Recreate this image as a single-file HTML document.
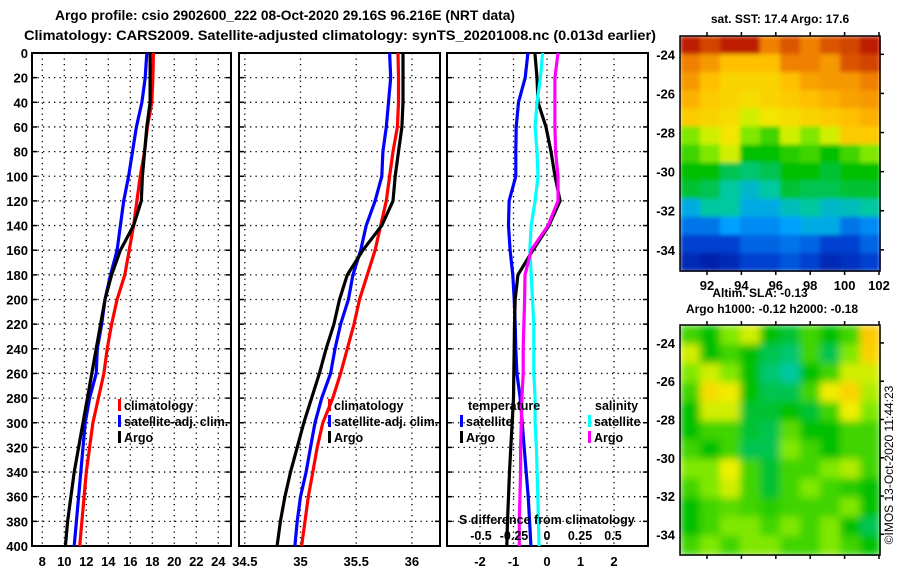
<!DOCTYPE html>
<html><head><meta charset="utf-8">
<style>
html,body{margin:0;padding:0;background:#fff;}
svg{display:block;font-family:"Liberation Sans",sans-serif;font-weight:bold;}
</style></head>
<body>
<svg id="fig" width="900" height="580" viewBox="0 0 900 580">
<defs>
<filter id="blurS" x="0" y="0" width="1" height="1"><feGaussianBlur stdDeviation="4" edgeMode="duplicate"/></filter>
<filter id="blurT" x="0" y="0" width="1" height="1"><feGaussianBlur stdDeviation="2" edgeMode="duplicate"/></filter>
</defs>
<text x="285" y="20" font-size="14" text-anchor="middle" textLength="460" lengthAdjust="spacingAndGlyphs">Argo profile: csio 2902600_222 08-Oct-2020 29.16S 96.216E (NRT data)</text>
<text x="340" y="40" font-size="14" text-anchor="middle" textLength="632" lengthAdjust="spacingAndGlyphs">Climatology: CARS2009. Satellite-adjusted climatology: synTS_20201008.nc (0.013d earlier)</text>
<text x="780" y="23" font-size="12" text-anchor="middle">sat. SST: 17.4 Argo: 17.6</text>
<text x="760" y="297" font-size="12" text-anchor="middle">Altim. SLA: -0.13</text>
<text x="772" y="313" font-size="12" text-anchor="middle">Argo h1000: -0.12 h2000: -0.18</text>
<text transform="translate(893,465) rotate(-90)" font-size="12" font-weight="normal" text-anchor="middle">©IMOS 13-Oct-2020 11:44:23</text>
</svg>
<script>
// ---- data ----
const depths = [0,20,40,60,80,100,120,140,160,180,200,220,240,260,280,300,320,340,360,380,400];
const tempClim = [18.1,18.05,17.95,17.55,17.3,16.9,16.6,16.3,15.9,15.5,14.8,14.3,13.9,13.6,13.1,12.6,12.3,12.0,11.8,11.6,11.4];
const tempSat = [17.5,17.35,17.05,16.55,16.2,15.85,15.4,15.1,14.8,14.2,13.7,13.4,13.0,12.9,12.3,11.9,11.7,11.5,11.3,11.1,10.9];
const tempArgo = [17.8,17.8,17.8,17.5,17.3,17.1,17.0,16.3,15.1,14.3,13.7,13.3,12.9,12.5,12.1,11.7,11.3,10.9,10.6,10.3,10.1];
const salClim = [35.875,35.88,35.88,35.87,35.83,35.80,35.77,35.72,35.67,35.60,35.53,35.48,35.42,35.36,35.29,35.2,35.15,35.11,35.07,35.04,35.01];
const salSat = [35.80,35.81,35.79,35.77,35.74,35.73,35.67,35.59,35.54,35.47,35.43,35.36,35.31,35.27,35.19,35.13,35.09,35.05,35.0,34.97,34.95];
const salArgo = [35.92,35.92,35.92,35.91,35.88,35.85,35.83,35.73,35.56,35.42,35.35,35.30,35.23,35.17,35.10,35.03,34.97,34.91,34.86,34.82,34.79];
const dTempSat = [-0.57,-0.65,-0.85,-0.92,-0.93,-0.93,-1.13,-1.15,-1.1,-1.02,-0.98,-0.95,-0.93,-0.9,-0.8,-0.74,-0.68,-0.62,-0.56,-0.52,-0.48];
const dTempArgo = [-0.36,-0.3,-0.27,-0.03,0.12,0.24,0.39,0.06,-0.42,-0.87,-0.95,-0.97,-0.98,-0.99,-1.0,-1.04,-1.08,-1.12,-1.15,-1.18,-1.2];
const dSalSat = [-0.033,-0.05,-0.076,-0.09,-0.076,-0.068,-0.09,-0.12,-0.13,-0.12,-0.11,-0.1,-0.1,-0.1,-0.09,-0.09,-0.08,-0.075,-0.07,-0.065,-0.06];
const dSalArgo = [0.083,0.06,0.06,0.06,0.065,0.083,0.083,0.008,-0.12,-0.167,-0.17,-0.175,-0.18,-0.18,-0.19,-0.195,-0.2,-0.2,-0.205,-0.21,-0.21];
const depthTicks = [0,20,40,60,80,100,120,140,160,180,200,220,240,260,280,300,320,340,360,380,400];
const tempTicks = [8,10,12,14,16,18,20,22,24];
const salTicks = [34.5,35,35.5,36];
const salTickLabels = ["34.5","35","35.5","36"];
const diffTicks = [-2,-1,0,1,2];
const sdiffTicks = [-0.5,-0.25,0,0.25,0.5];
const sdiffTickLabels = ["-0.5","-0.25","0","0.25","0.5"];
const latTicks = [-24,-26,-28,-30,-32,-34];
const lonTicks = [92,94,96,98,100,102];
const sstGrid = [
[0.97,0.92,0.97,0.97,0.85,0.9,0.85,0.9,0.92,0.97],
[0.85,0.8,0.72,0.72,0.72,0.85,0.85,0.8,0.9,0.92],
[0.8,0.72,0.68,0.68,0.68,0.72,0.78,0.8,0.8,0.85],
[0.75,0.7,0.68,0.66,0.68,0.7,0.72,0.75,0.78,0.8],
[0.7,0.68,0.66,0.6,0.64,0.66,0.68,0.7,0.72,0.75],
[0.55,0.6,0.64,0.55,0.5,0.6,0.55,0.6,0.7,0.7],
[0.5,0.55,0.6,0.45,0.45,0.48,0.5,0.45,0.5,0.55],
[0.45,0.45,0.4,0.38,0.4,0.45,0.45,0.42,0.45,0.45],
[0.42,0.4,0.35,0.32,0.35,0.42,0.4,0.4,0.42,0.42],
[0.3,0.35,0.35,0.3,0.3,0.33,0.35,0.32,0.33,0.35],
[0.22,0.22,0.28,0.25,0.25,0.28,0.3,0.3,0.22,0.25],
[0.15,0.15,0.15,0.2,0.2,0.22,0.2,0.15,0.15,0.2],
[0.1,0.08,0.1,0.15,0.15,0.18,0.15,0.1,0.12,0.15]];
const slaGrid = [
[0.5,0.45,0.55,0.6,0.45,0.42,0.5,0.45,0.5,0.7],
[0.6,0.45,0.5,0.45,0.4,0.38,0.5,0.4,0.55,0.68],
[0.55,0.6,0.55,0.45,0.38,0.35,0.45,0.5,0.6,0.6],
[0.5,0.66,0.63,0.45,0.4,0.4,0.5,0.63,0.68,0.58],
[0.45,0.6,0.6,0.42,0.42,0.45,0.42,0.5,0.62,0.55],
[0.45,0.5,0.5,0.42,0.4,0.52,0.45,0.45,0.5,0.5],
[0.5,0.45,0.5,0.4,0.4,0.55,0.5,0.45,0.5,0.5],
[0.55,0.55,0.62,0.5,0.42,0.5,0.5,0.55,0.58,0.5],
[0.5,0.55,0.6,0.5,0.42,0.5,0.55,0.5,0.48,0.45],
[0.45,0.5,0.52,0.5,0.48,0.5,0.5,0.5,0.55,0.45],
[0.45,0.5,0.55,0.55,0.5,0.55,0.5,0.55,0.45,0.4],
[0.5,0.55,0.5,0.55,0.55,0.5,0.5,0.55,0.5,0.45]];

const NS = "http://www.w3.org/2000/svg";
const svg = document.getElementById('fig');
function mk(tag, attrs, parent){ const e=document.createElementNS(NS,tag); for(const k in attrs) e.setAttribute(k,attrs[k]); (parent||svg).appendChild(e); return e; }
function lin(d0,d1,r0,r1){ return v => r0 + (v-d0)/(d1-d0)*(r1-r0); }
const Y = lin(0,400,53,546);

function panel(name,x0,x1,xs,gridVals,ticks,labels){
  const g = mk('g',{});
  
  
  depthTicks.forEach(d=>{
    if(d>0 && d<400){ const l=mk('line',{x1:x0,x2:x1,y1:Y(d),y2:Y(d),stroke:'#000','stroke-width':1.3,'stroke-dasharray':'1.3,4.2'},g);
        }
    mk('line',{x1:x0,x2:x0+5,y1:Y(d),y2:Y(d),stroke:'#000','stroke-width':1.5},g);
    mk('line',{x1:x1-5,x2:x1,y1:Y(d),y2:Y(d),stroke:'#000','stroke-width':1.5},g);
  });
  gridVals.forEach(v=>{
    const l=mk('line',{x1:xs(v),x2:xs(v),y1:53,y2:546,stroke:'#000','stroke-width':1.3,'stroke-dasharray':'1.3,4.2'},g);
     
  });
  mk('rect',{x:x0,y:53,width:x1-x0,height:493,fill:'none',stroke:'#000','stroke-width':2},g);
  ticks.forEach((v,i)=>{
    const t=mk('text',{x:xs(v),y:566,'font-size':13,'text-anchor':'middle'},g);
    t.textContent = labels? labels[i] : String(v);
     
  });
  return g;
}
function series(name,vals,xs,color,g){
  const pts = vals.map((v,i)=>xs(v).toFixed(1)+','+Y(depths[i]).toFixed(1)).join(' ');
  const p = mk('polyline',{points:pts,fill:'none',stroke:color,'stroke-width':3.2,'stroke-linejoin':'round'},g);
  
  
}
function legend(g,x,y,color,label,name){
  mk('rect',{x:x,y:y-10,width:3,height:12,fill:color},g);
  const t=mk('text',{x:x+6,y:y+1,'font-size':12.5},g);
  t.textContent=label;
  
  
}

depthTicks.forEach(d=>{
  const t=mk('text',{x:28,y:Y(d)+5,'font-size':13,'text-anchor':'end'});
  t.textContent=String(d);
  
  
});

const XT = lin(8,24,42.3,218.3);
const g1 = panel('temperature-panel',32,231,XT,tempTicks,tempTicks);
series('temp-climatology-line',tempClim,XT,'#ff0000',g1);
series('temp-satellite-line',tempSat,XT,'#0000ff',g1);
series('temp-argo-line',tempArgo,XT,'#000000',g1);
legend(g1,118,409,'#ff0000','climatology','legend-climatology');
legend(g1,118,425,'#0000ff','satellite-adj. clim.','legend-satellite-adj');
legend(g1,118,441,'#000000','Argo','legend-argo');

const XS = lin(35,36,300.5,411.9);
const g2 = panel('salinity-panel',239,440,XS,salTicks,salTicks,salTickLabels);
series('sal-climatology-line',salClim,XS,'#ff0000',g2);
series('sal-satellite-line',salSat,XS,'#0000ff',g2);
series('sal-argo-line',salArgo,XS,'#000000',g2);
legend(g2,328,409,'#ff0000','climatology','legend-climatology');
legend(g2,328,425,'#0000ff','satellite-adj. clim.','legend-satellite-adj');
legend(g2,328,441,'#000000','Argo','legend-argo');

const XD = lin(-2,2,480,614);
const XSD = lin(-0.5,0.5,481,613);
const g3 = panel('difference-panel',447,648,XD,diffTicks,diffTicks);
series('dtemp-satellite-line',dTempSat,XD,'#0000ff',g3);
series('dtemp-argo-line',dTempArgo,XD,'#000000',g3);
series('dsal-satellite-line',dSalSat,XSD,'#00ffff',g3);
series('dsal-argo-line',dSalArgo,XSD,'#ff00ff',g3);
(function(){
  const t1=mk('text',{x:468,y:410,'font-size':12.5},g3); t1.textContent='temperature';
   
  const t2=mk('text',{x:595,y:410,'font-size':12.5},g3); t2.textContent='salinity';
   
  const t3=mk('text',{x:459,y:524,'font-size':12.5},g3); t3.textContent='S difference from climatology';
   
})();
legend(g3,460,425,'#0000ff','satellite','legend-temp-satellite');
legend(g3,460,441,'#000000','Argo','legend-temp-argo');
legend(g3,588,425,'#00ffff','satellite','legend-sal-satellite');
legend(g3,588,441,'#ff00ff','Argo','legend-sal-argo');
sdiffTicks.forEach((v,i)=>{
  const t=mk('text',{x:XSD(v),y:540,'font-size':12.5,'text-anchor':'middle'},g3);
  t.textContent=sdiffTickLabels[i];
  
  
});

const stops=[[0,[0,0,128]],[0.15,[0,64,208]],[0.28,[0,160,255]],[0.35,[0,200,160]],[0.45,[0,192,0]],[0.55,[128,232,0]],[0.62,[240,240,0]],[0.72,[255,192,0]],[0.85,[240,128,0]],[1,[176,0,0]]];
function cmap(v){
  for(let i=1;i<stops.length;i++){ if(v<=stops[i][0]){ const a=stops[i-1],b=stops[i]; const f=(v-a[0])/(b[0]-a[0]);
    const c=a[1].map((x,k)=>Math.round(x+(b[1][k]-x)*f)); return 'rgb('+c.join(',')+')'; } }
  return 'rgb(176,0,0)';
}
function map(name,grid,x0,x1,y0,y1,showLon,filt){
  const g=mk('g',{});
  
  
  const cells=mk('g',{filter:'url(#'+filt+')'},g);
  const rows=grid.length, cols=grid[0].length;
  const cw=(x1-x0)/cols, ch=(y1-y0)/rows;
  grid.forEach((row,r)=>row.forEach((v,c)=>{
    mk('rect',{x:x0+c*cw,y:y0+r*ch,width:cw+0.6,height:ch+0.6,fill:cmap(v)},cells);
  }));
  mk('rect',{x:x0,y:y0,width:x1-x0,height:y1-y0,fill:'none',stroke:'#000','stroke-width':1.5},g);
  const LY = lin(-24,-34,y0+(y1-y0)*0.078,y0+(y1-y0)*0.91);
  const LX = lin(92,102,707,879);
  latTicks.forEach(v=>{
    mk('line',{x1:x1,x2:x1+4,y1:LY(v),y2:LY(v),stroke:'#000','stroke-width':1.5},g);
    const t=mk('text',{x:675,y:LY(v)+5,'font-size':13,'text-anchor':'end'},g);
    t.textContent=String(v);
    
    
  });
  lonTicks.forEach(v=>{
    mk('line',{x1:LX(v),x2:LX(v),y1:y0-4,y2:y0,stroke:'#000','stroke-width':1.5},g);
    mk('line',{x1:LX(v),x2:LX(v),y1:y1,y2:y1+4,stroke:'#000','stroke-width':1.5},g);
    if(showLon){ const t=mk('text',{x:LX(v),y:y1+19,'font-size':13,'text-anchor':'middle'},g);
      t.textContent=String(v);
      
       }
  });
}
map('sst-map',sstGrid,680,880,36,271,true,'blurT');
map('sla-map',slaGrid,680,880,325,555,false,'blurS');
</script>
</body></html>
